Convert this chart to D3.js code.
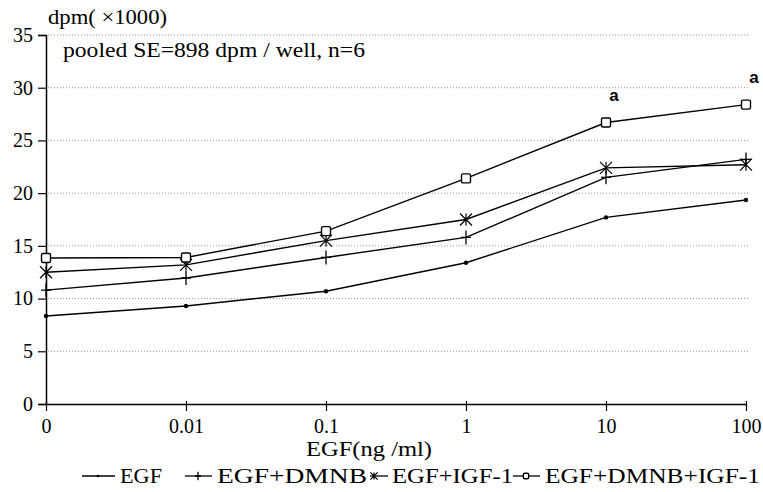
<!DOCTYPE html>
<html><head><meta charset="utf-8">
<script src="https://cdn.jsdelivr.net/npm/d3@7"></script>
<style>body{margin:0;background:#fff}svg{display:block}</style>
</head><body><svg id="c" width="763" height="492"></svg>
<script>
const categories = ["0","0.01","0.1","1","10","100"];
const yTicks = [0,5,10,15,20,25,30,35];
const egf = [8.35, 9.3, 10.7, 13.4, 17.7, 19.35];
const egfDmnb = [10.8, 11.95, 13.9, 15.8, 21.5, 23.2];
const egfIgf = [12.5, 13.2, 15.5, 17.5, 22.4, 22.7];
const egfDmnbIgf = [13.85, 13.9, 16.4, 21.4, 26.7, 28.4];
const seriesNames = ["EGF","EGF+DMNB","EGF+IGF-1","EGF+DMNB+IGF-1"];
const seriesMarkers = ["dot","plus","star","square"];
const annotations = [{cat:"10", text:"a"},{cat:"100", text:"a"}];

const series = [egf, egfDmnb, egfIgf, egfDmnbIgf].map((v,i)=>({name:seriesNames[i], marker:seriesMarkers[i], values:v}));

const svg = d3.select("#c");
const L=46, R=746, T=35, B=404;
const x = d3.scalePoint().domain(categories).range([L,R]);
const y = d3.scaleLinear().domain([0,35]).range([B,T]);
const serif = "'Liberation Serif','DejaVu Serif',serif";

// grid
svg.append("g").selectAll("line").data(yTicks.filter(d=>d>0)).join("line")
  .attr("x1",L+2).attr("x2",R+4).attr("y1",d=>y(d)).attr("y2",d=>y(d))
  .attr("stroke","#666").attr("stroke-width",0.7).attr("stroke-dasharray","1,2");

// y axis
const ya = svg.append("g").attr("transform",`translate(${L},0)`)
  .call(d3.axisLeft(y).tickValues(yTicks).tickSize(8).tickFormat(d3.format("d")));
ya.select(".domain").attr("stroke","#000").attr("stroke-width",1.5);
ya.selectAll("text").attr("font-family",serif).attr("font-size",20).attr("fill","#000").attr("dx",-2);
ya.selectAll(".tick line").attr("stroke","#000").attr("stroke-width",1.2);

// x axis
const xa = svg.append("g").attr("transform",`translate(0,${B})`)
  .call(d3.axisBottom(x).tickSize(7).tickSizeOuter(0));
xa.select(".domain").attr("stroke","#000").attr("stroke-width",1.5);
xa.selectAll("text").attr("font-family",serif).attr("font-size",20).attr("fill","#000").attr("dy","0.95em");
xa.selectAll(".tick line").attr("stroke","#000").attr("stroke-width",1.2).attr("y1",-3);

// titles
function txt(s, xx, yy, size, len, anchor){
  const t = svg.append("text").attr("x",xx).attr("y",yy).attr("font-family",serif).attr("font-size",size).text(s);
  if(len) t.attr("textLength",len).attr("lengthAdjust","spacingAndGlyphs");
  if(anchor) t.attr("text-anchor",anchor);
  return t;
}
txt("dpm( ×1000)", 48, 24, 20, 119);
txt("pooled SE=898 dpm / well, n=6", 63, 57, 20, 302);
txt("EGF(ng /ml)", 306, 456, 21, 126);

// lines
const line = d3.line().x((d,i)=>x(categories[i])).y(d=>y(d));
svg.append("g").selectAll("path").data(series).join("path")
  .attr("d",d=>line(d.values)).attr("fill","none").attr("stroke","#000").attr("stroke-width",1.4);

function drawMarker(g, type, cx, cy, s){
  if(type==="dot"){
    g.append("circle").attr("cx",cx).attr("cy",cy).attr("r",2.2*s).attr("fill","#000");
  } else if(type==="plus"){
    g.append("path").attr("d",`M${cx-5*s},${cy}H${cx+5*s}M${cx},${cy-7*s}V${cy+7*s}`).attr("stroke","#000").attr("stroke-width",1.3);
  } else if(type==="star"){
    g.append("path").attr("d",`M${cx-6*s},${cy-6*s}L${cx+6*s},${cy+6*s}M${cx-6*s},${cy+6*s}L${cx+6*s},${cy-6*s}M${cx},${cy-6*s}V${cy+6*s}`).attr("stroke","#000").attr("stroke-width",1.2);
  } else if(type==="square"){
    g.append("rect").attr("x",cx-4.5*s).attr("y",cy-4.5*s).attr("width",9*s).attr("height",9*s).attr("rx",1.5)
      .attr("fill","#fff").attr("stroke","#000").attr("stroke-width",1.4);
  }
}
const mg = svg.append("g");
series.forEach(s=>{
  s.values.forEach((v,i)=>drawMarker(mg, s.marker, x(categories[i]), y(v), 1));
});

// annotations
annotations.forEach(a=>{
  const i = categories.indexOf(a.cat);
  svg.append("text").attr("x",x(a.cat)+8).attr("y",y(egfDmnbIgf[i])-22)
    .attr("text-anchor","middle").attr("font-family","'Liberation Sans',Arial,sans-serif").attr("font-weight","bold").attr("font-size",17).text(a.text);
});

// legend
const legendItems = [
  {lx:[82,115], mx:98, tx:120, len:42},
  {lx:[185,212], mx:198, tx:217, len:150},
  {lx:[370,388], mx:374, tx:392, len:121},
  {lx:[513,540], mx:526, tx:545, len:215}
];
const lg = svg.append("g");
series.forEach((s,i)=>{
  const it = legendItems[i], cy=476;
  lg.append("line").attr("x1",it.lx[0]).attr("x2",it.lx[1]).attr("y1",cy).attr("y2",cy).attr("stroke","#000").attr("stroke-width",1.3);
  drawMarker(lg,s.marker,it.mx,cy,0.6);
  lg.append("text").attr("x",it.tx).attr("y",cy+7).attr("font-family",serif).attr("font-size",22)
    .attr("textLength",it.len).attr("lengthAdjust","spacingAndGlyphs").text(s.name);
});
</script></body></html>
